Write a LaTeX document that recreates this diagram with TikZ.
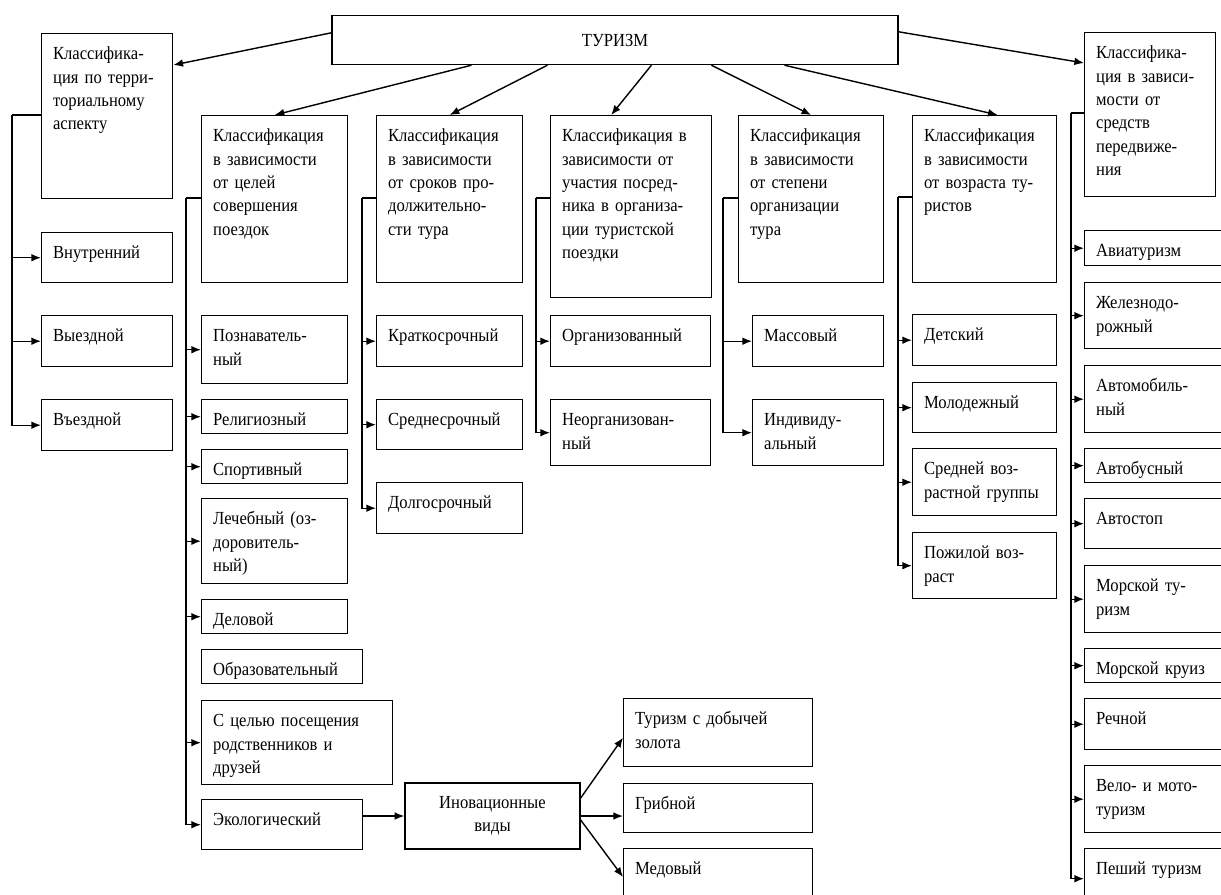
\documentclass[tikz,border=0pt]{standalone}
\usepackage{fontspec}
\setmainfont{Liberation Serif}[FakeStretch=0.9]
\usetikzlibrary{calc,arrows.meta}

\newcommand{\pxpt}{0.56906}
\tikzset{
  kbox/.style={draw, anchor=north west, align=left, inner xsep=6.5pt,
    inner ysep=3pt, text height=11.8pt, font=\fontsize{10.5}{13.3}\selectfont},
  cbox/.style={draw, align=center, font=\fontsize{10.5}{13.3}\selectfont},
}
% box: name, x, y (top left, px), width, height (px), text
\newcommand{\kbox}[6]{%
  \pgfmathsetmacro{\kw}{#4*\pxpt-13}%
  \pgfmathsetmacro{\kd}{#5*\pxpt-6-11.8}%
  \node[kbox, text width=\kw pt, text depth=\kd pt] (#1) at (#2,#3) {#6};}

\begin{document}
\begin{tikzpicture}[x=0.02cm, y=-0.02cm, line width=0.8pt, >={Latex[length=5.5pt,width=4.4pt]}]
        \useasboundingbox (0,0) rectangle (1221,894);
        \node[cbox, minimum width=322pt, minimum height=27.9pt] (tur) at (615,40) {ТУРИЗМ};

        % classifications
        \kbox{terr}{41}{33}{131}{165}{Классифика-\\ция по терри-\\ториальному\\аспекту}
        \kbox{celi}{201}{115}{146}{167}{Классификация\\в зависимости\\от целей\\совершения\\поездок}
        \kbox{srok}{376}{115}{146}{167}{Классификация\\в зависимости\\от сроков про-\\должительно-\\сти тура}
        \kbox{posr}{550}{115}{161}{182}{Классификация в\\зависимости от\\участия посред-\\ника в организа-\\ции туристской\\поездки}
        \kbox{stepen}{738}{115}{145}{167}{Классификация\\в зависимости\\от степени\\организации\\тура}
        \kbox{vozr}{912}{115}{144}{167}{Классификация\\в зависимости\\от возраста ту-\\ристов}
        \kbox{sred}{1084}{32}{131}{164}{Классифика-\\ция в зависи-\\мости от\\средств\\передвиже-\\ния}

        \draw[->] ($(tur.north west)+(0,18)$) -- ($(terr.north east)+(0,32)$);
        \draw[->] ($(tur.south west)+(140,0)$) -- (celi.north);
        \draw[->] ($(tur.south west)+(216,0)$) -- (srok.north);
        \draw[->] ($(tur.south west)+(320,0)$) -- ($(posr.north)+(-20,0)$);
        \draw[->] ($(tur.south west)+(380,0)$) -- (stepen.north);
        \draw[->] ($(tur.south west)+(453,0)$) -- ($(vozr.north)+(13,0)$);
        \draw[->] ($(tur.north east)+(0,17)$) -- ($(sred.north west)+(0,31)$);

        % territory
        \kbox{vnutr}{41}{232}{131}{50}{Внутренний}
        \kbox{vyezd}{41}{315}{131}{51}{Выездной}
        \kbox{vezd}{41}{399}{131}{51}{Въездной}
        \draw ($(terr.north west)+(0,82)$) -- ++(-29,0) coordinate (bterr);
        \draw[->] (bterr) |- (vnutr.west);
        \draw[->] (bterr) |- (vyezd.west);
        \draw[->] (bterr) |- (vezd.west);

        % aims
        \kbox{pozn}{201}{315}{146}{68}{Познаватель-\\ный}
        \kbox{relig}{201}{399}{146}{34}{Религиозный}
        \kbox{sport}{201}{449}{146}{34}{Спортивный}
        \kbox{lech}{201}{498}{146}{85}{Лечебный (оз-\\доровитель-\\ный)}
        \kbox{delo}{201}{599}{146}{34}{Деловой}
        \kbox{obraz}{201}{649}{161}{34}{Образовательный}
        \kbox{rodst}{201}{700}{191}{84}{С целью посещения\\родственников и\\друзей}
        \kbox{ekol}{201}{799}{161}{50}{Экологический}
        \draw ($(celi.north west)+(0,83)$) -- ++(-15,0) coordinate (bceli);
        \draw[->] (bceli) |- (pozn.west);
        \draw[->] (bceli) |- (relig.west);
        \draw[->] (bceli) |- (sport.west);
        \draw[->] (bceli) |- (lech.west);
        \draw[->] (bceli) |- (delo.west);
        \draw[->] (bceli) |- (rodst.west);
        \draw[->] (bceli) |- (ekol.west);

        % innovative kinds
        \node[cbox, minimum width=99.6pt, minimum height=37.6pt] (innov) at (492.5,816) {Иновационные\\виды};
        \kbox{zoloto}{623}{698}{189}{68}{Туризм с добычей\\золота}
        \kbox{grib}{623}{783}{189}{49}{Грибной}
        \kbox{med}{623}{848}{189}{60}{Медовый}
        \draw[->] (ekol.east |- innov.west) -- (innov.west);
        \draw[->] ($(innov.east)+(0,-18)$) -- ($(zoloto.west)+(0,5)$);
        \draw[->] (innov.east) -- (innov.east -| grib.west);
        \draw[->] ($(innov.east)+(0,4)$) -- ($(med.north west)+(0,29)$);

        % duration
        \kbox{kratk}{376}{315}{146}{51}{Краткосрочный}
        \kbox{sredn}{376}{399}{146}{50}{Среднесрочный}
        \kbox{dolg}{376}{482}{146}{51}{Долгосрочный}
        \draw ($(srok.north west)+(0,83)$) -- ++(-14,0) coordinate (bsrok);
        \draw[->] (bsrok) |- (kratk.west);
        \draw[->] (bsrok) |- (sredn.west);
        \draw[->] (bsrok) |- (dolg.west);

        % intermediary
        \kbox{org}{550}{315}{160}{51}{Организованный}
        \kbox{neorg}{550}{399}{160}{66}{Неорганизован-\\ный}
        \draw ($(posr.north west)+(0,83)$) -- ++(-14,0) coordinate (bposr);
        \draw[->] (bposr) |- (org.west);
        \draw[->] (bposr) |- (neorg.west);

        % degree of organisation
        \kbox{mass}{752}{315}{131}{51}{Массовый}
        \kbox{indiv}{752}{399}{131}{66}{Индивиду-\\альный}
        \draw ($(stepen.north west)+(0,83)$) -- ++(-15,0) coordinate (bstepen);
        \draw[->] (bstepen) |- (mass.west);
        \draw[->] (bstepen) |- (indiv.west);

        % age
        \kbox{det}{912}{314}{144}{51}{Детский}
        \kbox{molod}{912}{382}{144}{50}{Молодежный}
        \kbox{sredv}{912}{448}{144}{67}{Средней воз-\\растной группы}
        \kbox{pozh}{912}{532}{144}{66}{Пожилой воз-\\раст}
        \draw ($(vozr.north west)+(0,82)$) -- ++(-14,0) coordinate (bvozr);
        \draw[->] (bvozr) |- (det.west);
        \draw[->] (bvozr) |- (molod.west);
        \draw[->] (bvozr) |- (sredv.west);
        \draw[->] (bvozr) |- (pozh.west);

        % transport
        \kbox{avia}{1084}{230}{160}{35}{Авиатуризм}
        \kbox{zhel}{1084}{282}{160}{66}{Железнодо-\\рожный}
        \kbox{avto}{1084}{365}{160}{67}{Автомобиль-\\ный}
        \kbox{avtob}{1084}{448}{160}{34}{Автобусный}
        \kbox{stop}{1084}{498}{160}{50}{Автостоп}
        \kbox{morsk}{1084}{565}{160}{67}{Морской ту-\\ризм}
        \kbox{kruiz}{1084}{648}{160}{34}{Морской круиз}
        \kbox{rech}{1084}{698}{160}{51}{Речной}
        \kbox{velo}{1084}{765}{160}{67}{Вело- и мото-\\туризм}
        \kbox{pesh}{1084}{848}{160}{60}{Пеший туризм}
        \draw ($(sred.north west)+(0,81)$) -- ++(-13,0) coordinate (bsred);
        \draw[->] (bsred) |- (avia.west);
        \draw[->] (bsred) |- (zhel.west);
        \draw[->] (bsred) |- (avto.west);
        \draw[->] (bsred) |- (avtob.west);
        \draw[->] (bsred) |- (stop.west);
        \draw[->] (bsred) |- (morsk.west);
        \draw[->] (bsred) |- (kruiz.west);
        \draw[->] (bsred) |- (rech.west);
        \draw[->] (bsred) |- (velo.west);
        \draw[->] (bsred) |- (pesh.west);
\end{tikzpicture}
\end{document}
